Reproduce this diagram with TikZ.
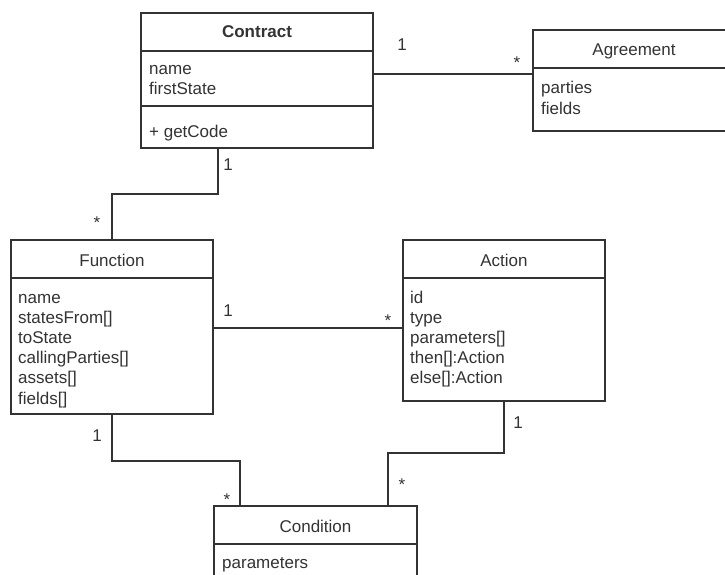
\documentclass[tikz,border=0pt]{standalone}
\usepackage{fontspec}
\setmainfont{Liberation Sans}
\definecolor{ink}{HTML}{333333}
\begin{document}
\begin{tikzpicture}[x=1pt,y=-1pt,
  cls/.style={draw=ink, line width=1.3pt, fill=white, rectangle, inner sep=0pt, outer sep=0pt},
  txt/.style={anchor=base west, inner sep=0pt, text=ink, font=\fontsize{17}{20}\selectfont},
  ttl/.style={anchor=base, inner sep=0pt, text=ink, font=\fontsize{17}{20}\selectfont},
  mult/.style={anchor=base, inner sep=0pt, text=ink, font=\fontsize{17}{20}\selectfont},
  conn/.style={draw=ink, line width=1.3pt},
  div/.style={draw=ink, line width=1.3pt}]
\useasboundingbox (0,0) rectangle (725,575);
\clip (0,0) rectangle (725,575);

% classes
\node[cls, minimum width=232pt, minimum height=135pt] (contract) at (257,80.5) {};
\node[cls, minimum width=202pt, minimum height=101pt] (agreement) at (634,80.5) {};
\node[cls, minimum width=202pt, minimum height=174pt] (function) at (112,327) {};
\node[cls, minimum width=202pt, minimum height=161pt] (action) at (504,320.5) {};
\node[cls, minimum width=203pt, minimum height=114pt] (condition) at (315.5,563) {};

% dividers
\draw[div] (contract.west |- 0,51) -- (contract.east |- 0,51);
\draw[div] (contract.west |- 0,106) -- (contract.east |- 0,106);
\draw[div] (agreement.west |- 0,68) -- (agreement.east |- 0,68);
\draw[div] (function.west |- 0,278) -- (function.east |- 0,278);
\draw[div] (action.west |- 0,278) -- (action.east |- 0,278);
\draw[div] (condition.west |- 0,544) -- (condition.east |- 0,544);

% titles
\node[ttl, font=\fontsize{17}{20}\selectfont\bfseries] (tcontract) at (contract.north |- 0,38) {Contract};
\node[ttl] (tagreement) at (agreement.north |- 0,56) {Agreement};
\node[ttl] (tfunction) at (function.north |- 0,266) {Function};
\node[ttl] (taction) at (action.north |- 0,266) {Action};
\node[ttl] (tcondition) at (condition.north |- 0,532) {Condition};

% attributes
\node[txt] (c1) at (149,75) {name};
\node[txt] (c2) at (149,95) {firstState};
\node[txt] (c3) at (149,137) {+ getCode};

\node[txt] (a1) at (541,94) {parties};
\node[txt] (a2) at (541,114) {fields};

\node[txt] (f1) at (18,303) {name};
\node[txt] (f2) at (18,323.2) {statesFrom[]};
\node[txt] (f3) at (18,343.4) {toState};
\node[txt] (f4) at (18,363.6) {callingParties[]};
\node[txt] (f5) at (18,383.8) {assets[]};
\node[txt] (f6) at (18,404) {fields[]};

\node[txt] (x1) at (410,303) {id};
\node[txt] (x2) at (410,323) {type};
\node[txt] (x3) at (410,343) {parameters[]};
\node[txt] (x4) at (410,363) {then[]:Action};
\node[txt] (x5) at (410,383) {else[]:Action};

\node[txt] (d1) at (222,568) {parameters};

% connector turning points
\coordinate (k0) at (0,74);
\coordinate (k1) at (218,194);
\coordinate (k2) at (0,328);
\coordinate (k3) at (240,461);
\coordinate (k4) at (388,453);

\draw[conn] (contract.east |- k0) -- (agreement.west |- k0);
\draw[conn] (contract.south -| k1) -- (k1) -| (function.north);
\draw[conn] (function.east |- k2) -- (action.west |- k2);
\draw[conn] (function.south) |- (k3) -- (k3 |- condition.north);
\draw[conn] (action.south) |- (k4) -- (k4 |- condition.north);

% multiplicities
\node[mult] (m1) at (402,51) {1};
\node[mult] (m2) at (517,69) {*};
\node[mult] (m3) at (228,170) {1};
\node[mult] (m4) at (97,228) {*};
\node[mult] (m5) at (228,316) {1};
\node[mult] (m6) at (388,326) {*};
\node[mult] (m7) at (97,441) {1};
\node[mult] (m8) at (227,505) {*};
\node[mult] (m9) at (518,428) {1};
\node[mult] (m10) at (402,490) {*};
\end{tikzpicture}
\end{document}
